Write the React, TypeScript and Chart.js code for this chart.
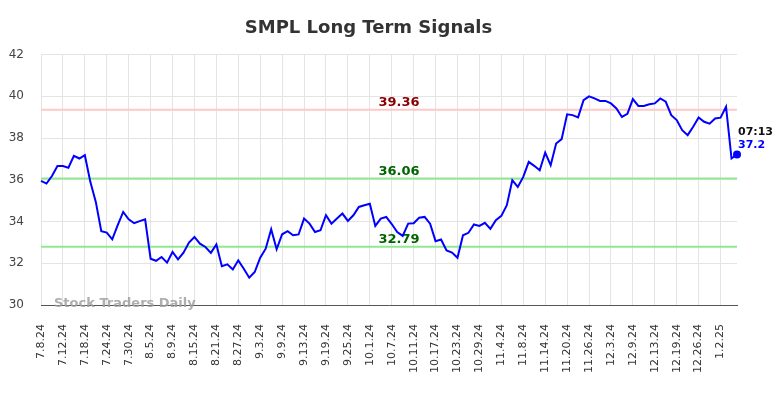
import React, { useEffect, useRef } from "react";
import { Chart, registerables } from "chart.js";

Chart.register(...registerables);

const TITLE = "SMPL Long Term Signals";

const tickLabels = [
  "7.8.24", "7.12.24", "7.18.24", "7.24.24", "7.30.24", "8.5.24", "8.9.24", "8.15.24",
  "8.21.24", "8.27.24", "9.3.24", "9.9.24", "9.13.24", "9.19.24", "9.25.24", "10.1.24",
  "10.7.24", "10.11.24", "10.17.24", "10.23.24", "10.29.24", "11.4.24", "11.8.24", "11.14.24",
  "11.20.24", "11.26.24", "12.3.24", "12.9.24", "12.13.24", "12.19.24", "12.26.24", "1.2.25",
];

const prices = [
  35.95, 35.82, 36.18, 36.66, 36.66, 36.58, 37.15, 37.02, 37.18, 35.9,
  34.94, 33.54, 33.47, 33.15, 33.83, 34.46, 34.11, 33.92, 34.02, 34.11,
  32.22, 32.12, 32.3, 32.03, 32.54, 32.19, 32.51, 32.99, 33.26, 32.94,
  32.78, 32.5, 32.9, 31.86, 31.95, 31.7, 32.14, 31.74, 31.31, 31.58,
  32.27, 32.7, 33.63, 32.67, 33.39, 33.54, 33.34, 33.38, 34.14, 33.9,
  33.5, 33.58, 34.3, 33.9, 34.14, 34.38, 34.03, 34.3, 34.7, 34.78,
  34.85, 33.79, 34.14, 34.22, 33.88, 33.5, 33.31, 33.9, 33.92, 34.18,
  34.22, 33.9, 33.06, 33.14, 32.61, 32.51, 32.26, 33.34, 33.46, 33.86,
  33.79, 33.94, 33.65, 34.06, 34.27, 34.78, 35.98, 35.66, 36.14, 36.86,
  36.67, 36.46, 37.3, 36.7, 37.74, 37.95, 39.14, 39.1, 38.99, 39.82,
  40.0, 39.9, 39.78, 39.78, 39.66, 39.42, 39.01, 39.16, 39.87, 39.54,
  39.54, 39.62, 39.66, 39.9, 39.74, 39.1, 38.86, 38.38, 38.14, 38.54,
  38.99, 38.78, 38.69, 38.94, 38.98, 39.5, 37.02, 37.21,
];

const resistanceLevels = [39.36];
const supportLevels = [36.06, 32.79];
const lastTime = "07:13";
const lastPriceLabel = "37.2";
const yTicks = [30, 32, 34, 36, 38, 40, 42];
const TICK_EVERY = 4;

const FONT = "'DejaVu Sans', sans-serif";

const categories = prices.map((_, i) =>
  i % TICK_EVERY === 0 && tickLabels[i / TICK_EVERY] ? tickLabels[i / TICK_EVERY] : ""
);

const overlayPlugin = {
  id: "overlay",
  beforeDatasetsDraw(chart: any) {
    const { ctx, chartArea, scales } = chart;
    const y = scales.y;
    const cx = (chartArea.left + chartArea.right) / 2 + 10;
    ctx.save();
    const drawLevel = (v: number, lineColor: string, textColor: string) => {
      const py = y.getPixelForValue(v);
      ctx.strokeStyle = lineColor;
      ctx.lineWidth = 2;
      ctx.beginPath();
      ctx.moveTo(chartArea.left, py);
      ctx.lineTo(chartArea.right, py);
      ctx.stroke();
      ctx.fillStyle = textColor;
      ctx.font = `bold 13px ${FONT}`;
      ctx.textAlign = "center";
      ctx.textBaseline = "alphabetic";
      ctx.fillText(v.toFixed(2), cx, py - 4);
    };
    resistanceLevels.forEach((v) => drawLevel(v, "#ffc8c8", "#8b0000"));
    supportLevels.forEach((v) => drawLevel(v, "#90e890", "#006400"));
    // watermark
    ctx.font = `bold 13px ${FONT}`;
    ctx.fillStyle = "rgba(160,160,160,0.85)";
    ctx.textAlign = "left";
    ctx.textBaseline = "middle";
    ctx.fillText("Stock Traders Daily", chartArea.left + 13, chartArea.bottom - 1);
    ctx.restore();
  },
  afterDatasetsDraw(chart: any) {
    const { ctx, scales } = chart;
    const last = prices.length - 1;
    const px = scales.x.getPixelForValue(last);
    const py = scales.y.getPixelForValue(prices[last]);
    ctx.save();
    ctx.font = `bold 11px ${FONT}`;
    ctx.textAlign = "left";
    ctx.textBaseline = "alphabetic";
    ctx.fillStyle = "#111";
    ctx.fillText(lastTime, px + 1, py - 20);
    ctx.fillStyle = "#0000ff";
    ctx.fillText(lastPriceLabel, px + 1, py - 7);
    ctx.restore();
  },
};

export default function App() {
  const ref = useRef<HTMLCanvasElement | null>(null);
  useEffect(() => {
    if (!ref.current) return;
    const chart = new Chart(ref.current, {
      type: "line",
      data: {
        labels: categories,
        datasets: [
          {
            data: prices,
            borderColor: "#0000ff",
            backgroundColor: "#0000ff",
            borderWidth: 2,
            tension: 0,
            pointRadius: (c: any) => (c.dataIndex === prices.length - 1 ? 4 : 0),
            pointHoverRadius: 0,
            pointBorderWidth: 0,
          },
        ],
      },
      options: {
        animation: false,
        responsive: false,
        maintainAspectRatio: false,
        layout: { padding: { left: 0, right: 47, top: 0, bottom: 0 } },
        plugins: {
          legend: { display: false },
          tooltip: { enabled: false },
          title: {
            display: true,
            text: TITLE,
            color: "#333",
            font: { family: FONT, size: 18, weight: "bold" },
            padding: { top: 18, bottom: 15 },
          },
        },
        scales: {
          x: {
            type: "category",
            offset: false,
            grid: {
              color: (c: any) => (c.index % TICK_EVERY === 0 ? "#e4e4e4" : "rgba(0,0,0,0)"),
              lineWidth: 1,
              drawTicks: false,
            },
            border: { display: true, color: "#555", width: 1 },
            ticks: {
              autoSkip: false,
              maxRotation: 90,
              minRotation: 90,
              padding: 19,
              color: "#333",
              font: { family: FONT, size: 11 },
            },
            afterFit: (s: any) => {
              s.height = 93;
            },
          },
          y: {
            min: 30,
            max: 42,
            afterBuildTicks: (s: any) => {
              s.ticks = yTicks.map((v) => ({ value: v }));
            },
            grid: { color: "#e4e4e4", lineWidth: 1, drawTicks: false },
            border: { display: false },
            ticks: {
              padding: 17,
              color: "#444",
              font: { family: FONT, size: 12 },
            },
            afterFit: (s: any) => {
              s.width = 41;
            },
          },
        },
      },
      plugins: [overlayPlugin],
    } as any);
    return () => chart.destroy();
  }, []);
  return (
    <div style={{ position: "fixed", left: 0, top: 0, width: 784, height: 398, background: "#fff" }}>
      <canvas ref={ref} width={784} height={398} style={{ width: 784, height: 398 }} />
    </div>
  );
}
